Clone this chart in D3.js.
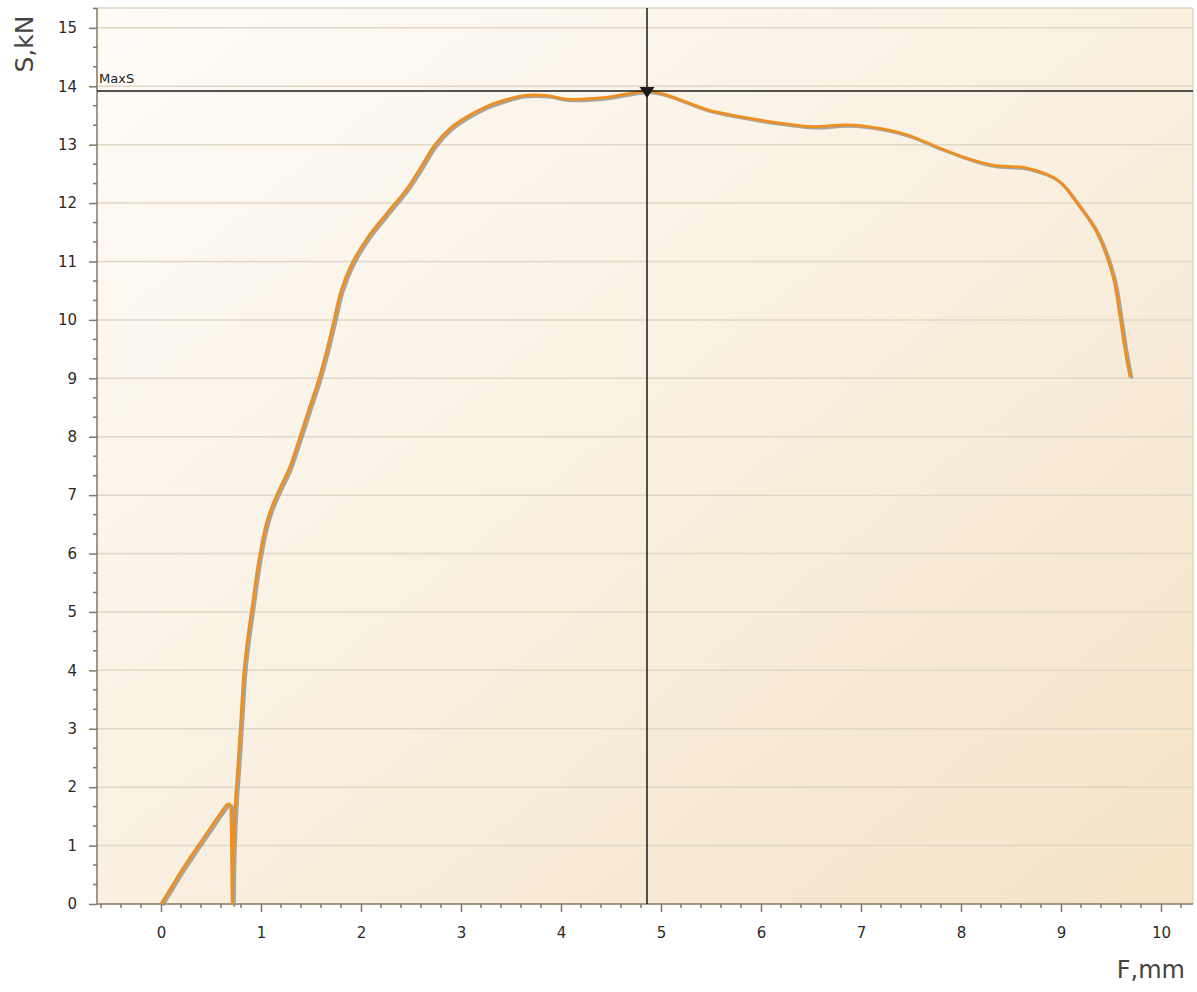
<!DOCTYPE html>
<html><head><meta charset="utf-8">
<script src="https://cdn.jsdelivr.net/npm/d3@7"></script>
<style>
html,body{margin:0;padding:0;background:#fff;}
svg{display:block;}
</style></head>
<body>
<script>
// Data
const F = [0, 0.1, 0.2, 0.32, 0.42, 0.5, 0.58, 0.63, 0.665, 0.69, 0.70, 0.706, 0.712, 0.72, 0.73, 0.745, 0.77, 0.80, 0.83, 0.87, 0.92, 0.97, 1.03, 1.09, 1.17, 1.28, 1.38, 1.48, 1.58, 1.66, 1.73, 1.80, 1.91, 2.07, 2.26, 2.46, 2.60, 2.73, 2.89, 3.05, 3.25, 3.45, 3.62, 3.86, 4.06, 4.39, 4.66, 4.86, 5.06, 5.46, 5.79, 6.19, 6.52, 6.86, 7.19, 7.46, 7.79, 8.06, 8.32, 8.66, 8.96, 9.19, 9.36, 9.52, 9.59, 9.64, 9.69];
const S = [0, 0.28, 0.56, 0.87, 1.12, 1.32, 1.52, 1.64, 1.71, 1.70, 1.45, 0.8, 0.0, 0.8, 1.3, 1.8, 2.4, 3.2, 4.0, 4.6, 5.2, 5.8, 6.35, 6.72, 7.05, 7.45, 7.95, 8.48, 9.0, 9.5, 10.0, 10.5, 10.97, 11.42, 11.83, 12.25, 12.62, 12.98, 13.28, 13.47, 13.65, 13.77, 13.84, 13.84, 13.78, 13.8, 13.87, 13.92, 13.85, 13.6, 13.48, 13.37, 13.31, 13.34, 13.28, 13.17, 12.94, 12.77, 12.65, 12.6, 12.4, 11.93, 11.49, 10.74, 10.05, 9.49, 9.02];
const xTicks = [0,1,2,3,4,5,6,7,8,9,10];
const yTicks = [0,1,2,3,4,5,6,7,8,9,10,11,12,13,14,15];
const maxF = 4.86, maxS = 13.92;
const maxLabel = "MaxS";
const xTitle = "F,mm", yTitle = "S,kN";

(function(){
const W = 1197, H = 992;
const pL = 97, pR = 1193, pT = 8, pB = 904;
const x = d3.scaleLinear().domain([-0.64, 10.32]).range([pL, pR]);
const y = d3.scaleLinear().domain([0, 15.34]).range([pB, pT]);

const svg = d3.select("body").append("svg").attr("width", W).attr("height", H);
const defs = svg.append("defs");
const g = defs.append("linearGradient").attr("id","bg").attr("x1","0").attr("y1","0").attr("x2","1").attr("y2","1");
g.append("stop").attr("offset","0").attr("stop-color","#fefcf7");
g.append("stop").attr("offset","0.5").attr("stop-color","#f9f0e1");
g.append("stop").attr("offset","1").attr("stop-color","#f4e3c6");

svg.append("rect").attr("x", pL).attr("y", pT).attr("width", pR-pL).attr("height", pB-pT).attr("fill","url(#bg)");

// grid lines
svg.append("g").selectAll("line").data(yTicks.filter(d=>d>0)).join("line")
  .attr("x1", pL).attr("x2", pR).attr("y1", d=>y(d)).attr("y2", d=>y(d))
  .attr("stroke","#e0d8c6").attr("stroke-width",1.5);
// frame top/right
svg.append("line").attr("x1", pL).attr("x2", pR).attr("y1", pT).attr("y2", pT).attr("stroke","#ddd6c4").attr("stroke-width",1.5);
svg.append("line").attr("x1", pR).attr("x2", pR).attr("y1", pT).attr("y2", pB).attr("stroke","#ddd6c4").attr("stroke-width",1.5);

// axes
const axisColor = "#857760";
const xMinor = d3.range(-0.6, 10.31, 0.2).map(v=>+v.toFixed(2)).filter(v=>Math.abs(v-Math.round(v))>1e-6);
const yMinor = d3.range(0, 15.34, 1/3).filter(v=>Math.abs(v-Math.round(v))>1e-6);

const xAxis = d3.axisBottom(x).tickValues(xTicks).tickSize(8).tickFormat(d3.format("d"));
const xg = svg.append("g").attr("transform",`translate(0,${pB})`).call(xAxis);
xg.select(".domain").remove();
xg.selectAll(".tick line").attr("stroke",axisColor).attr("stroke-width",1.5);
xg.selectAll(".tick text").attr("font-family","DejaVu Sans, sans-serif").attr("font-size",15).attr("fill","#2a2a2a").attr("y",23).attr("dy","0.71em");
svg.append("g").selectAll("line").data(xMinor).join("line")
  .attr("x1", d=>x(d)).attr("x2", d=>x(d)).attr("y1", pB).attr("y2", pB+4)
  .attr("stroke",axisColor).attr("stroke-width",1.5);

const yAxis = d3.axisLeft(y).tickValues(yTicks).tickSize(8).tickFormat(d3.format("d"));
const yg = svg.append("g").attr("transform",`translate(${pL},0)`).call(yAxis);
yg.select(".domain").remove();
yg.selectAll(".tick line").attr("stroke",axisColor).attr("stroke-width",1.5);
yg.selectAll(".tick text").attr("font-family","DejaVu Sans, sans-serif").attr("font-size",15).attr("fill","#2a2a2a").attr("x",-20);
svg.append("g").selectAll("line").data(yMinor).join("line")
  .attr("x1", pL-4).attr("x2", pL).attr("y1", d=>y(d)).attr("y2", d=>y(d))
  .attr("stroke",axisColor).attr("stroke-width",1.5);

svg.append("line").attr("x1", pL).attr("x2", pR).attr("y1", pB).attr("y2", pB).attr("stroke",axisColor).attr("stroke-width",1.5);
svg.append("line").attr("x1", pL).attr("x2", pL).attr("y1", pT).attr("y2", pB).attr("stroke",axisColor).attr("stroke-width",1.5);

// curve
const pts = F.map((f,i)=>[f,S[i]]);
const line = d3.line().x(d=>x(d[0])).y(d=>y(d[1])).curve(d3.curveCatmullRom.alpha(0.5));
svg.append("path").attr("d", line(pts)).attr("fill","none").attr("stroke","#9a968e").attr("stroke-width",3).attr("stroke-opacity",0.85)
  .attr("transform","translate(2,1.5)").attr("stroke-linejoin","round");
svg.append("path").attr("d", line(pts)).attr("fill","none").attr("stroke","#ee8f1f").attr("stroke-width",2.8).attr("stroke-linejoin","round");

// crosshair
svg.append("line").attr("x1", x(maxF)).attr("x2", x(maxF)).attr("y1", pT).attr("y2", pB).attr("stroke","#1a1a1a").attr("stroke-width",1.5);
svg.append("line").attr("x1", pL).attr("x2", pR).attr("y1", y(maxS)).attr("y2", y(maxS)).attr("stroke","#1a1a1a").attr("stroke-width",1.5);
const mx = x(maxF), my = y(maxS);
svg.append("path").attr("d", `M${mx-7.5},${my-4} L${mx+7.5},${my-4} L${mx},${my+7} Z`).attr("fill","#1a1a1a");
svg.append("text").attr("x", pL+2).attr("y", my-8).text(maxLabel)
  .attr("font-family","DejaVu Sans, sans-serif").attr("font-size",13).attr("fill","#222");

// titles
svg.append("text").attr("transform",`translate(33,44) rotate(-90)`).attr("text-anchor","middle").text(yTitle)
  .attr("font-family","DejaVu Sans, sans-serif").attr("font-size",25).attr("fill","#444");
svg.append("text").attr("x", 1185).attr("y", 978).attr("text-anchor","end").text(xTitle)
  .attr("font-family","DejaVu Sans, sans-serif").attr("font-size",24).attr("fill","#444");
})();
</script>
</body></html>
